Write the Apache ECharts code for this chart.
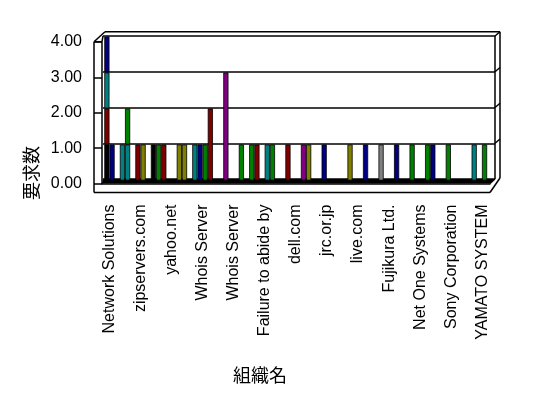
<!DOCTYPE html>
<html>
<head>
<meta charset="utf-8">
<script src="https://cdn.jsdelivr.net/npm/echarts@6/dist/echarts.min.js"></script>
<style>
  html, body { margin: 0; padding: 0; background: #fff; }
  #chart { width: 548px; height: 398px; }
</style>
</head>
<body>
<div id="chart"></div>
<script>
// 組織名 - only every other category carries a visible label
var categories = ['Network Solutions', '', 'zipservers.com', '', 'yahoo.net', '', 'Whois Server', '',
  'Whois Server', '', 'Failure to abide by', '', 'dell.com', '', 'jrc.or.jp', '', 'live.com', '',
  'Fujikura Ltd.', '', 'Net One Systems', '', 'Sony Corporation', '', 'YAMATO SYSTEM'];
var yTicks = [0, 1, 2, 3, 4];

// 要求数, three bars per organisation (left / middle / right)
var slotA  = [1, 1, 1, 1, 0, 1, 1, 0, 0, 0, 0, 0, 0, 1, 1, 0, 0, 0, 0, 0, 0, 1, 1, 0, 0];
var slotB  = [1, 1, 1, 1, 0, 0, 1, 0, 0, 1, 1, 0, 0, 0, 0, 0, 0, 0, 0, 0, 0, 0, 0, 0, 1];
var slotC  = [0, 0, 0, 1, 1, 1, 2, 3, 1, 1, 1, 1, 1, 0, 0, 1, 1, 1, 1, 1, 1, 0, 0, 1, 0];
// stacked pieces on top of some bars
var slotA2 = [1, 0, 0, 0, 0, 0, 0, 0, 0, 0, 0, 0, 0, 0, 0, 0, 0, 0, 0, 0, 0, 0, 0, 0, 0];
var slotA3 = [1, 0, 0, 0, 0, 0, 0, 0, 0, 0, 0, 0, 0, 0, 0, 0, 0, 0, 0, 0, 0, 0, 0, 0, 0];
var slotA4 = [1, 0, 0, 0, 0, 0, 0, 0, 0, 0, 0, 0, 0, 0, 0, 0, 0, 0, 0, 0, 0, 0, 0, 0, 0];
var slotB2 = [0, 1, 0, 0, 0, 0, 0, 0, 0, 0, 0, 0, 0, 0, 0, 0, 0, 0, 0, 0, 0, 0, 0, 0, 0];

// colours of each bar (k black, r red, t teal, n navy, g green, o olive, p purple, s grey)
var pal = { k: '#000000', r: '#800000', t: '#008080', n: '#000080', g: '#008000', o: '#808000', p: '#800080', s: '#808080' };
var colA  = 'ktrk.on......on......ng..'.split('');
var colB  = 'ntog..g..gt.............g'.split('');
var colC  = '...rotrpgrgrp..onsnggg.t.'.split('');
var colA2 = 'r........................'.split('');
var colA3 = 't........................'.split('');
var colA4 = 'n........................'.split('');
var colB2 = '.g.......................'.split('');

function barSeries(values, colors, stack) {
  return {
    type: 'bar',
    xAxisIndex: 1,
    yAxisIndex: 1,
    stack: stack,
    barGap: '0%',
    barCategoryGap: '0%',
    itemStyle: { borderColor: '#000', borderWidth: 0.8 },
    data: values.map(function (v, i) {
      return v ? { value: v, itemStyle: { color: pal[colors[i]] } } : '-';
    })
  };
}

var chart = echarts.init(document.getElementById('chart'));
var font = '"Liberation Sans", Arial, sans-serif';
var line = { stroke: '#000', lineWidth: 1.5 };

chart.setOption({
  animation: false,
  grid: [
    { left: 102, right: 58, top: 42, bottom: 214.5 },
    { left: 104.3, right: 55.7, top: 36.5, bottom: 217.5 },
    { left: 103, right: 53, top: 36, bottom: 219 }
  ],
  xAxis: [
    {
      gridIndex: 0, type: 'category', data: categories,
      axisLine: { lineStyle: { color: '#000', width: 1.5 } },
      axisTick: { interval: 0, length: 9, lineStyle: { color: '#000', width: 1.5 } },
      axisLabel: { interval: 0, rotate: 90, margin: 21, color: '#000', fontSize: 16, fontFamily: font }
    },
    { gridIndex: 1, type: 'category', data: categories, show: false },
    { gridIndex: 2, type: 'category', data: categories, show: false }
  ],
  yAxis: [
    {
      gridIndex: 0, type: 'value', min: yTicks[0], max: yTicks[yTicks.length - 1], interval: 1,
      axisLine: { show: true, lineStyle: { color: '#000', width: 1.5 } },
      axisTick: { show: true, length: 8, lineStyle: { color: '#000', width: 1.5 } },
      splitLine: { show: false },
      axisLabel: { margin: 20, color: '#000', fontSize: 16, fontFamily: font,
        formatter: function (v) { return v.toFixed(2); } }
    },
    { gridIndex: 1, type: 'value', min: 0, max: 4, interval: 1, show: false, splitLine: { show: false } },
    {
      gridIndex: 2, type: 'value', min: 0, max: 4, interval: 1,
      axisLine: { show: false }, axisTick: { show: false }, axisLabel: { show: false },
      splitLine: { show: true, lineStyle: { color: '#000', width: 1.5 } }
    }
  ],
  series: [
    barSeries(slotA, colA, 'a'),
    barSeries(slotA2, colA2, 'a'),
    barSeries(slotA3, colA3, 'a'),
    barSeries(slotA4, colA4, 'a'),
    barSeries(slotB, colB, 'b'),
    barSeries(slotB2, colB2, 'b'),
    barSeries(slotC, colC, 'c')
  ],
  graphic: [
    // floor
    { type: 'polygon', z: -1, shape: { points: [[102, 183.5], [490, 183.5], [495, 179], [103, 179]] }, style: { fill: '#000' } },
    // left wall and floor front
    { type: 'line', shape: { x1: 94, y1: 41.7, x2: 94, y2: 192.5 }, style: line },
    { type: 'line', shape: { x1: 94, y1: 192.5, x2: 490, y2: 192.5 }, style: line },
    { type: 'line', shape: { x1: 94, y1: 41.7, x2: 102, y2: 41.7 }, style: line },
    { type: 'line', shape: { x1: 94, y1: 41.7, x2: 105, y2: 31.7 }, style: line },
    { type: 'line', shape: { x1: 102, y1: 41.7, x2: 103, y2: 36 }, style: line },
    // back top and right wall
    { type: 'line', shape: { x1: 105, y1: 31.7, x2: 500, y2: 31.7 }, style: line },
    { type: 'line', shape: { x1: 495, y1: 36, x2: 495, y2: 179 }, style: line },
    { type: 'line', shape: { x1: 500, y1: 31.7, x2: 500, y2: 178 }, style: line },
    { type: 'line', shape: { x1: 495, y1: 36, x2: 500, y2: 31.7 }, style: line },
    { type: 'line', shape: { x1: 495, y1: 71.75, x2: 500, y2: 67.5 }, style: line },
    { type: 'line', shape: { x1: 495, y1: 107.5, x2: 500, y2: 103.2 }, style: line },
    { type: 'line', shape: { x1: 495, y1: 143.25, x2: 500, y2: 139 }, style: line },
    { type: 'line', shape: { x1: 490, y1: 192.5, x2: 500, y2: 178 }, style: line },
    { type: 'line', shape: { x1: 490, y1: 183.5, x2: 495, y2: 179 }, style: line },
    // axis names
    { type: 'text', x: 31, y: 173, rotation: Math.PI / 2,
      style: { text: '要求数', fill: '#000', font: '18px "Noto Sans CJK JP"', textAlign: 'center', textVerticalAlign: 'middle' } },
    { type: 'text', x: 260, y: 375,
      style: { text: '組織名', fill: '#000', font: '18px "Noto Sans CJK JP"', textAlign: 'center', textVerticalAlign: 'middle' } }
  ]
});
</script>
</body>
</html>
